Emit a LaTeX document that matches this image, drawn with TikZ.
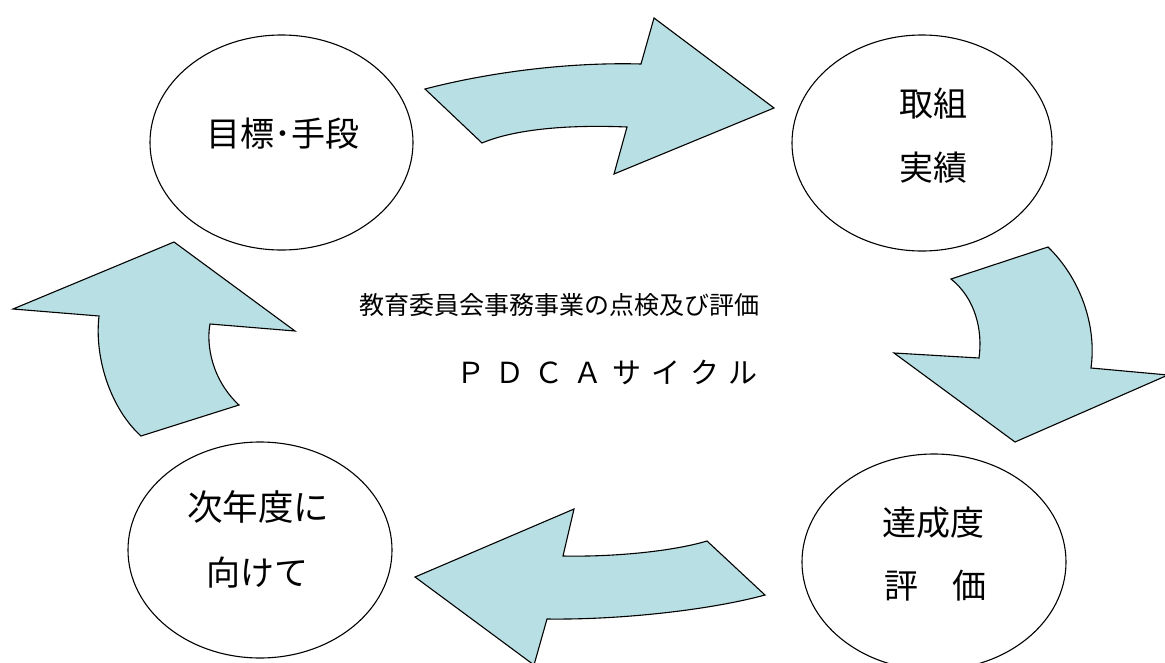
\documentclass[tikz,border=0pt]{standalone}
\usepackage{fontspec}
\newfontfamily\jp{Noto Sans CJK JP}
\usetikzlibrary{shapes.geometric}
\definecolor{arrowfill}{RGB}{184,223,227}
\tikzset{
  bubble/.style={ellipse, draw=black, line width=1.1pt, fill=white, inner sep=0pt},
  bubbletext/.style={anchor=base, inner sep=0pt, font=\jp\fontsize{34}{40}\selectfont},
  blockarrow/.style={draw=black, line width=1.1pt, fill=arrowfill, line join=miter},
}
\begin{document}
\begin{tikzpicture}[x=1pt, y=-1pt]
\useasboundingbox (0,0) rectangle (1165,662);

% ellipses
\node[bubble, minimum width=263pt, minimum height=215pt] (goal) at (281.5,142.5) {};
\node[bubble, minimum width=260pt, minimum height=216pt] (work) at (922,143) {};
\node[bubble, minimum width=264pt, minimum height=216pt] (next) at (260,550) {};
\node[bubble, minimum width=264pt, minimum height=216pt] (eval) at (934,562) {};

% ellipse texts
\node[bubbletext] (goalt) at (283,146) {目標･手段};
\node[bubbletext] (workt1) at (933,116) {取組};
\node[bubbletext] (workt2) at (933,180) {実績};
\node[bubbletext, font=\jp\fontsize{35.5}{40}\selectfont] (nextt1) at (258,520) {次年度に};
\node[bubbletext] (nextt2) at (257,585) {向けて};
\node[bubbletext] (evalt1) at (933,535) {達成度};
\node[bubbletext] (evalt2) at (935,598) {評　価};

% centre texts
\node[anchor=base, inner sep=0pt, font=\jp\fontsize{25}{30}\selectfont] (title) at (559,314.5) {教育委員会事務事業の点検及び評価};
\node[anchor=base, inner sep=0pt, font=\jp\fontsize{29}{34}\selectfont\addfontfeature{LetterSpace=35}] (pdca) at (607,383.5) {ＰＤＣＡサイクル};

% top arrow (goal -> work)
\draw[blockarrow] (425,89) .. controls (490,72) and (570,62) .. (641,64)
  -- (654,18) -- (774,108) -- (614,174) -- (627,127)
  .. controls (580,125) and (520,127) .. (482,143) -- cycle;

% right arrow (work -> eval)
\draw[blockarrow] (951,279) -- (1048,247)
  .. controls (1080,278) and (1097,325) .. (1091,368)
  -- (1168,375) -- (1015,442) -- (894,353) -- (979,358)
  .. controls (983,330) and (975,298) .. (951,279) -- cycle;

% bottom arrow (eval -> next)
\draw[blockarrow] (707,541) -- (765,595)
  .. controls (710,610) and (620,620) .. (547,619)
  -- (534,665) -- (415,577) -- (574,509) -- (563,556)
  .. controls (610,557) and (670,552) .. (707,541) -- cycle;

% left arrow (next -> goal)
\draw[blockarrow] (174,242) -- (295,331) -- (210,324)
  .. controls (206,345) and (212,380) .. (239,405)
  -- (141,436)
  .. controls (112,410) and (94,360) .. (99,316)
  -- (13,309) -- cycle;
\end{tikzpicture}
\end{document}
